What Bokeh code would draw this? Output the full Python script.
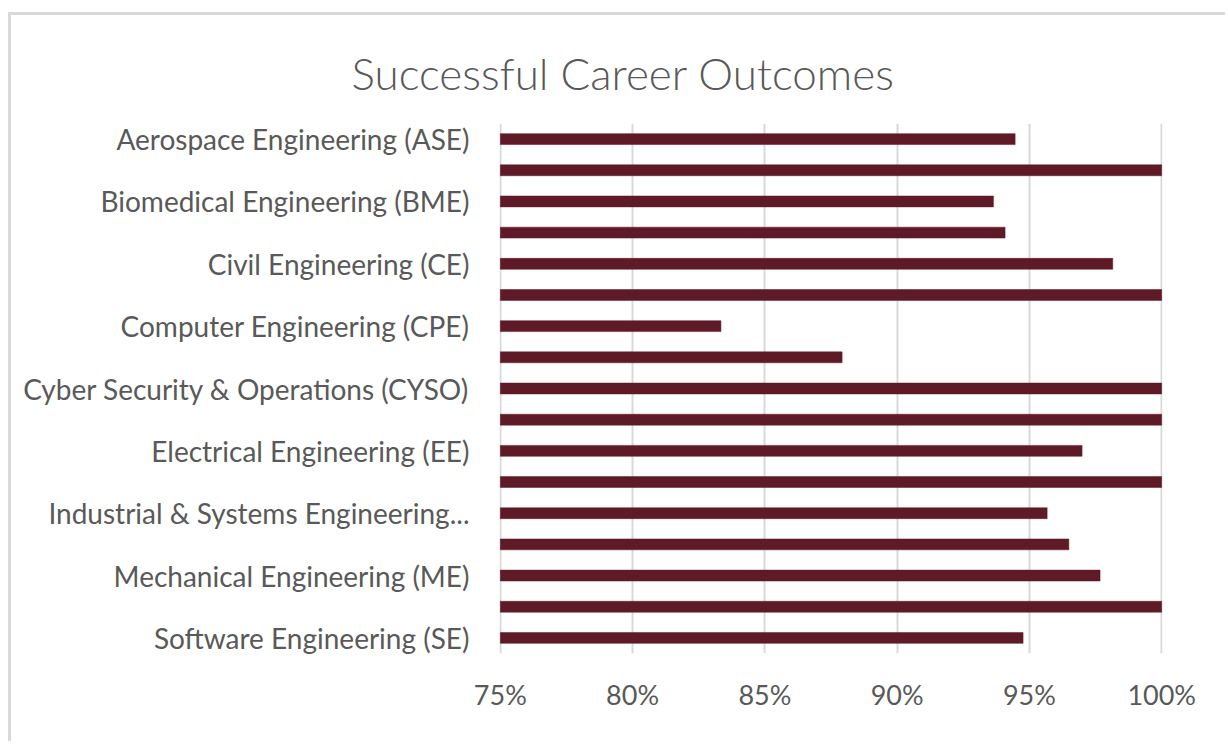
from bokeh.plotting import figure
from bokeh.models import Range1d, PrintfTickFormatter
from bokeh.embed import file_html
from bokeh.resources import INLINE

# ---- data ----
categories = [
    "Aerospace Engineering (ASE)",
    "Architectural Engineering (ARE)",
    "Biomedical Engineering (BME)",
    "Chemical Engineering (CHE)",
    "Civil Engineering (CE)",
    "Computational Engineering (CME)",
    "Computer Engineering (CPE)",
    "Computer Science (CS)",
    "Cyber Security & Operations (CYSO)",
    "Data Science (DS)",
    "Electrical Engineering (EE)",
    "Environmental Engineering (ENE)",
    "Industrial & Systems Engineering (ISE)",
    "Materials Science & Engineering (MSE)",
    "Mechanical Engineering (ME)",
    "Nuclear Engineering (NE)",
    "Software Engineering (SE)",
]
outcome_pct = [94.46, 100, 93.64, 94.08, 98.15, 100, 83.34, 87.92, 100, 100,
               96.99, 100, 95.67, 96.49, 97.67, 100, 94.76]
axis_labels = [
    "Aerospace Engineering (ASE)", "",
    "Biomedical Engineering (BME)", "",
    "Civil Engineering (CE)", "",
    "Computer Engineering (CPE)", "",
    "Cyber Security & Operations (CYSO)", "",
    "Electrical Engineering (EE)", "",
    "Industrial & Systems Engineering...", "",
    "Mechanical Engineering (ME)", "",
    "Software Engineering (SE)",
]
x_ticks = [75, 80, 85, 90, 95, 100]
axis_min = 75
axis_max = 100
title_text = "Successful Career Outcomes"

# ---- style ----
BAR = "#5E1A27"
TEXT = "#595959"
GRID = "#D9D9D9"
FONT = "Lato"

n = len(categories)
row_pos = list(range(n))
label_ticks = [i for i, lab in enumerate(axis_labels) if lab]

p = figure(
    width=1217, height=729,
    output_backend="svg", toolbar_location=None,
    y_range=Range1d(n - 0.5, -0.5),
    x_range=Range1d(axis_min - 0.03, axis_max + 0.03),
    min_border_left=488, min_border_right=66,
    min_border_top=108, min_border_bottom=91,
    background_fill_color="white", border_fill_color="white",
    title=title_text,
)
p.styles = {
    "margin-top": "12px",
    "margin-left": "8px",
    "border-top": "3px solid #D9D9D9",
    "border-left": "3px solid #D9D9D9",
}
p.outline_line_color = None

p.hbar(y=row_pos, left=axis_min, right=outcome_pct, height=0.35,
       fill_color=BAR, line_color=BAR, line_width=0.5)

# title
p.title.align = "left"
p.title.offset = -148
p.title.standoff = 49
p.title.text_font = "'Lato Light', Lato"
p.title.text_font_size = "44px"
p.title.text_font_style = "normal"
p.title.text_color = TEXT

# x axis
p.xaxis.ticker = x_ticks
p.xaxis.formatter = PrintfTickFormatter(format="%d%%")
p.xaxis.axis_line_color = None
p.xaxis.major_tick_line_color = None
p.xaxis.minor_tick_line_color = None
p.xaxis.major_label_text_font = FONT
p.xaxis.major_label_text_font_size = "27px"
p.xaxis.major_label_text_color = TEXT
p.xaxis.major_label_standoff = 18

# y axis
p.yaxis.ticker = label_ticks
p.yaxis.major_label_overrides = {i: axis_labels[i] for i in label_ticks}
p.yaxis.axis_line_color = None
p.yaxis.major_tick_line_color = None
p.yaxis.minor_tick_line_color = None
p.yaxis.major_label_text_font = FONT
p.yaxis.major_label_text_font_size = "28px"
p.yaxis.major_label_text_color = TEXT
p.yaxis.major_label_standoff = 24

# grids
p.xgrid.ticker = x_ticks
p.xgrid.grid_line_color = GRID
p.xgrid.grid_line_width = 2
p.ygrid.grid_line_color = None

open("out.html", "w").write(file_html(p, INLINE))
